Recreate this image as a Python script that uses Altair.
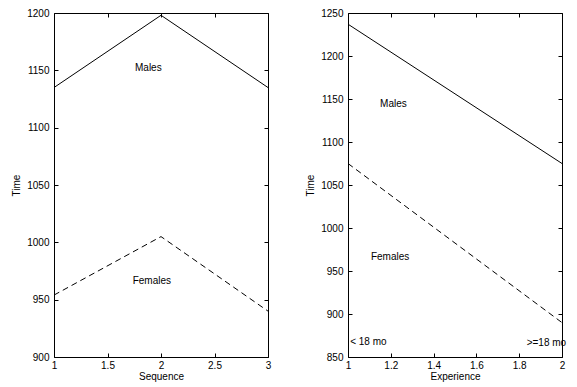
import altair as alt
import pandas as pd

# ---- data ----
seq_x = [1, 2, 3]
seq_males = [1135, 1198, 1135]
seq_females = [954, 1005, 940]

exp_x = [1, 2]
exp_males = [1237, 1075]
exp_females = [1075, 890]

seq_xticks = [1, 1.5, 2, 2.5, 3]
seq_yticks = [900, 950, 1000, 1050, 1100, 1150, 1200]
exp_xticks = [1, 1.2, 1.4, 1.6, 1.8, 2]
exp_yticks = [850, 900, 950, 1000, 1050, 1100, 1150, 1200, 1250]

seq_labels = ["Males", "Females"]
seq_label_x = [1.757, 1.735]
seq_label_y = [1152, 966]

exp_labels = ["Males", "Females", "< 18 mo", ">=18 mo"]
exp_label_x = [1.15, 1.107, 1.01, 1.835]
exp_label_y = [1144, 966, 868, 866]

W, H = 214, 344
FONT = "Liberation Sans"


def panel(xs, males, females, xticks, yticks, xdom, ydom, xtitle, labs, lx, ly):
    df_m = pd.DataFrame({"x": xs, "y": males})
    df_f = pd.DataFrame({"x": xs, "y": females})
    df_t = pd.DataFrame({"x": lx, "y": ly, "t": labs})
    xsc = alt.Scale(domain=xdom, nice=False, zero=False)
    ysc = alt.Scale(domain=ydom, nice=False, zero=False)

    def tick_axis(values, orient, offset):
        return alt.Axis(values=values, orient=orient, offset=offset, labels=False,
                        domain=False, grid=False, ticks=True, tickSize=4,
                        tickColor="black", tickWidth=1, title=None)

    m = alt.Chart(df_m).mark_line(color="black", strokeWidth=1).encode(
        x=alt.X("x:Q", scale=xsc, title=xtitle,
                axis=alt.Axis(values=xticks, format="~g", tickSize=0, labelPadding=3,
                              titlePadding=1, domain=False, grid=False,
                              labelFlush=False, labelOverlap=False)),
        y=alt.Y("y:Q", scale=ysc, title="Time",
                axis=alt.Axis(values=yticks, format="d", tickSize=0, labelPadding=5,
                              titlePadding=5, domain=False, grid=False,
                              labelFlush=False, labelOverlap=False)),
    )
    f = alt.Chart(df_f).mark_line(color="black", strokeWidth=1, strokeDash=[6, 4]).encode(
        x=alt.X("x:Q", scale=xsc, axis=tick_axis(xticks, "top", -H)),
        y=alt.Y("y:Q", scale=ysc, axis=tick_axis(yticks, "right", -W)),
    )
    t = alt.Chart(df_t).mark_text(align="left", baseline="middle", fontSize=10,
                                  font=FONT, color="black").encode(
        x=alt.X("x:Q", scale=xsc, axis=tick_axis(xticks, "bottom", -H)),
        y=alt.Y("y:Q", scale=ysc, axis=tick_axis(yticks, "left", -W)),
        text="t:N",
    )
    return alt.layer(m, f, t).resolve_axis(x="independent", y="independent").properties(
        width=W, height=H)


left = panel(seq_x, seq_males, seq_females, seq_xticks, seq_yticks, [1, 3], [900, 1200],
             "Sequence", seq_labels, seq_label_x, seq_label_y)
right = panel(exp_x, exp_males, exp_females, exp_xticks, exp_yticks, [1, 2], [850, 1250],
              "Experience", exp_labels, exp_label_x, exp_label_y)

chart = alt.hconcat(left, right, spacing=33).properties(
    padding={"left": 3, "top": -1, "right": 0, "bottom": 0}
).configure_view(stroke="black", strokeWidth=1).configure_axis(
    labelFont=FONT, labelFontSize=10, labelColor="black",
    titleFont=FONT, titleFontSize=10, titleFontWeight="normal", titleColor="black",
)

chart.save("out.html", embed_options={"renderer": "svg", "actions": False})
